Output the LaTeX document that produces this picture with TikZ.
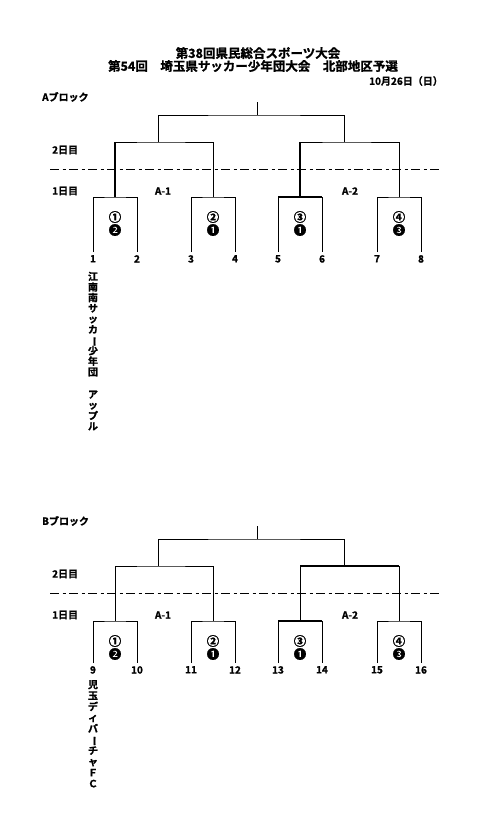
\documentclass[tikz,border=0pt]{standalone}
\usepackage{fontspec}
\usepackage{graphicx}
\setmainfont{Noto Sans CJK JP}[BoldFont={Noto Sans CJK JP Bold},BoldFeatures={FakeBold=1.2}]
\usetikzlibrary{positioning,calc}

\newcommand{\tatebar}{\smash{\rotatebox[origin=c]{-90}{ー}}}

\begin{document}
\begin{tikzpicture}[x=1pt,y=-1pt,
    ttl/.style={font=\bfseries\fontsize{12.5}{14}\selectfont,inner sep=0pt},
    lbl/.style={font=\bfseries\fontsize{10}{12}\selectfont,inner sep=0pt},
    num/.style={font=\bfseries\fontsize{10}{12}\selectfont,inner sep=3pt,anchor=north},
    rnd/.style={font=\bfseries\fontsize{12.5}{13}\selectfont,inner sep=0pt},
    vname/.style={font=\bfseries\fontsize{10}{11}\selectfont,align=center,inner sep=0pt},
    br/.style={line width=0.9pt},
    win/.style={line width=1.7pt},
    daydiv/.style={line width=0.8pt,dash pattern=on 9pt off 3.5pt on 3pt off 3.5pt}]
  \useasboundingbox (0,0) rectangle (486,831);

  % heading
  \node[ttl] (head1) at (258,53) {第38回県民総合スポーツ大会};
  \node[ttl] (head2) at (253,66) {第54回　埼玉県サッカー少年団大会　北部地区予選};
  \node[lbl,anchor=east] (date) at (443,81) {10月26日（日）};

  % two blocks, same bracket
  \foreach \b/\oy/\lb/\first in {A/0/252/1,B/424/663/9}{
    \node[lbl,anchor=west] (blk\b) at (42,97+\oy) {\b ブロック};
    \node[lbl,anchor=west] (day2\b) at (52,150+\oy) {2日目};
    \node[lbl,anchor=west] (day1\b) at (52,191+\oy) {1日目};
    \coordinate (dl\b) at (50,169+\oy);
    \coordinate (dr\b) at (442,169+\oy);
    \draw[daydiv] (dl\b) -- (dr\b);
    \node[lbl] (grp\b1) at (163,191+\oy) {A-1};
    \node[lbl] (grp\b2) at (350,191+\oy) {A-2};

    \coordinate (top\b) at (257,102+\oy);
    \coordinate (t\b) at (257,115+\oy);
    \coordinate (r\b1) at (158,142+\oy);
    \coordinate (r\b2) at (344,142+\oy);
    \foreach \x [count=\j] in {115,213,300,399}
      \coordinate (q\b\j) at (\x,197+\oy);

    \foreach \x [count=\i from 0] in {93,137,191,235,278,322,377,421}{
      \pgfmathtruncatemacro\k{\first+\i}
      \node[num] (n\k) at (\x,\lb) {\k};
    }
    \foreach \j/\fc in {1/❷,2/❶,3/❶,4/❸}{
      \pgfmathtruncatemacro\l{\first+2*\j-2}
      \pgfmathtruncatemacro\r{\first+2*\j-1}
      \draw[br] (n\l.north) |- (q\b\j) -| (n\r.north);
      \node[rnd] (c\b\j) at ($(q\b\j)+(0,20)$) {\ifcase\j\or ①\or ②\or ③\or ④\fi};
      \node[rnd] (f\b\j) at ($(q\b\j)+(0,33)$) {\fc};
    }
    \draw[br] (q\b1) |- (r\b1) -| (q\b2);
    \draw[br] (q\b3) |- (r\b2) -| (q\b4);
    \draw[br] (r\b1) |- (t\b) -| (r\b2);
    \draw[br] (t\b) -- (top\b);
  }

  % heavier strokes
  \draw[win] (qA1) -- (qA1 |- rA1);
  \draw[win] (qA3) -- (qA3 |- rA2);
  \draw[win] (n5.north |- qA3) -- (n6.north |- qA3);
  \draw[win] (qB3 |- rB2) -- (qB4 |- rB2);
  \draw[win] (n13.north |- qB3) -- (n14.north |- qB3);

  % team names
  \node[vname,anchor=north,font=\bfseries\fontsize{10}{10.6}\selectfont] (teamA) at ($(n1.south)+(0,6)$)
    {江\\南\\南\\サ\\ッ\\カ\\\tatebar\\少\\年\\団\\[12pt]ア\\ッ\\プ\\ル};
  \node[vname,anchor=north] (teamB) at ($(n9.south)+(0,3)$)
    {児\\玉\\デ\\ィ\\バ\\\tatebar\\チ\\ャ\\Ｆ\\Ｃ};
\end{tikzpicture}
\end{document}
